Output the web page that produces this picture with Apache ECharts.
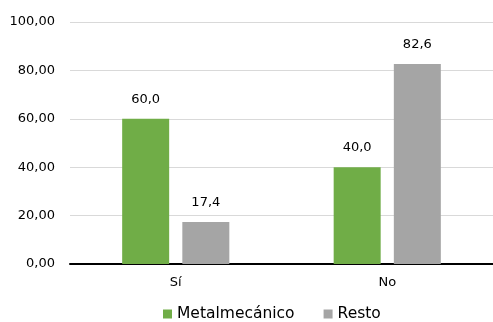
<!DOCTYPE html>
<html>
<head>
<meta charset="utf-8">
<script src="https://cdn.jsdelivr.net/npm/echarts@6/dist/echarts.min.js"></script>
<style>html,body{margin:0;padding:0;background:#fff}#c{width:493px;height:322px}</style>
</head>
<body>
<div id="c"></div>
<script>
var categories = ['Sí', 'No'];
var seriesNames = ['Metalmecánico', 'Resto'];
var metalValues = [60.0, 40.0];
var restoValues = [17.4, 82.6];
var yTicks = [0, 20, 40, 60, 80, 100];

var FONT = 'DejaVu Sans';
var chart = echarts.init(document.getElementById('c'), null, {renderer: 'canvas'});
function fmt(v, d) { return v.toFixed(d).replace('.', ','); }
chart.setOption({
  animation: false,
  textStyle: {fontFamily: FONT},
  grid: {left: 70, right: -2, top: 22, bottom: 58, containLabel: false},
  legend: {
    data: seriesNames,
    top: 306,
    left: 163,
    padding: 0,
    itemWidth: 9, itemHeight: 9, itemGap: 29,
    icon: 'rect',
    textStyle: {fontFamily: FONT, fontSize: 15.5, color: '#000', padding: [0, 0, 0, 0]},
    itemStyle: {borderWidth: 0}
  },
  xAxis: {
    type: 'category',
    data: categories,
    axisLine: {lineStyle: {color: '#000', width: 2}},
    axisTick: {show: false},
    axisLabel: {fontFamily: FONT, fontSize: 13, color: '#000', margin: 12}
  },
  yAxis: {
    type: 'value',
    min: yTicks[0], max: yTicks[yTicks.length - 1], interval: 20,
    axisLine: {show: false},
    axisTick: {show: false},
    splitLine: {lineStyle: {color: '#d9d9d9', width: 1}},
    axisLabel: {fontFamily: FONT, fontSize: 13, color: '#000', margin: 15,
      formatter: function (v) { return fmt(v, 2); }}
  },
  series: [
    {
      name: seriesNames[0], type: 'bar', data: metalValues,
      barWidth: 47, barGap: '28%',
      itemStyle: {color: '#70ad47'},
      label: {show: true, position: 'top', distance: 13, fontFamily: FONT, fontSize: 13, color: '#000',
        formatter: function (p) { return fmt(p.value, 1); }}
    },
    {
      name: seriesNames[1], type: 'bar', data: restoValues,
      barWidth: 47, barGap: '28%',
      itemStyle: {color: '#a5a5a5'},
      label: {show: true, position: 'top', distance: 13, fontFamily: FONT, fontSize: 13, color: '#000',
        formatter: function (p) { return fmt(p.value, 1); }}
    }
  ]
});
</script>
</body>
</html>
